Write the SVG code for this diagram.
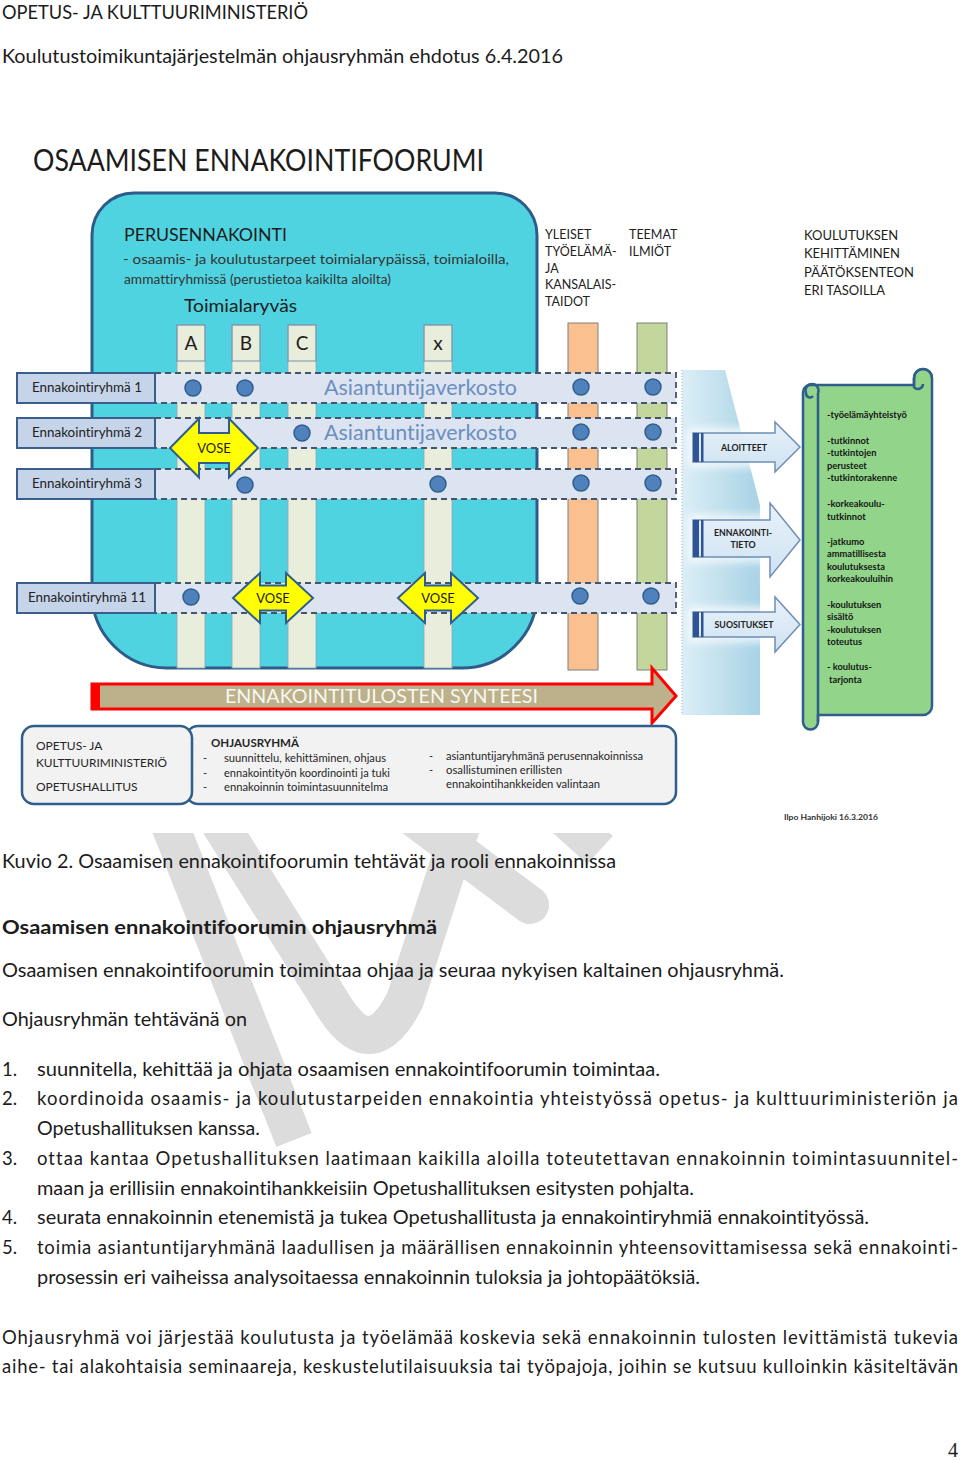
<svg xmlns="http://www.w3.org/2000/svg" width="960" height="1460" viewBox="0 0 960 1460">
<defs>
<style>
text{font-family:Lato,"Open Sans","Liberation Sans",sans-serif;fill:#1c1c1c;font-variant-ligatures:none;font-feature-settings:"liga" 0,"clig" 0}
.body{font-size:18.5px}
.hd{font-size:13px}
.lbl{font-size:12.5px;fill:#222}
.band{fill:#DCE4F1;stroke:#44546A;stroke-width:1.8;stroke-dasharray:6 4}
.gbox{fill:#C6D4EA;stroke:#3B5F8C;stroke-width:2}
.dot{fill:#4F81BD;stroke:#2F5E8C;stroke-width:1.5}
.col{fill:#E9EDDB;stroke:#8FA3B8;stroke-width:0.8}
.vose{fill:#FFFF00;stroke:#2F5E8C;stroke-width:2}
.vt{font-size:13px;text-anchor:middle}
.av{font-size:22px;fill:#6C8EBF}
.sub{font-size:13px;fill:#333}
.sc{font-size:9.3px;font-weight:bold;fill:#151515}
.ar{fill:url(#arG);stroke:#6F8DB6;stroke-width:1.5}
.at{font-size:8.8px;font-weight:bold;text-anchor:middle;fill:#222}
.stripe{fill:#2F5597}
.bx{fill:#F2F2F2;stroke:#2F5E8C;stroke-width:2.5}
.bt{font-size:12px;fill:#262626}
.it{font-size:11px;fill:#262626}
.syn{font-size:20px;fill:#F7F7F2}
.sig{font-size:7.5px;font-weight:bold;fill:#333}
.pg{font-family:"Liberation Serif",serif;font-size:20px;fill:#222}
.wm{fill:none;stroke:#DCDCDC;stroke-width:38}
</style>
<linearGradient id="panelG" x1="0" y1="0" x2="1" y2="0">
<stop offset="0" stop-color="#DCEEF6"/><stop offset="1" stop-color="#A8D2E5"/>
</linearGradient>
<linearGradient id="arG" x1="0" y1="0" x2="0" y2="1">
<stop offset="0" stop-color="#E8F2FA"/><stop offset="1" stop-color="#CFE2F1"/>
</linearGradient>
<filter id="glow" x="-30%" y="-50%" width="160%" height="200%"><feGaussianBlur stdDeviation="5"/></filter>
<clipPath id="wmClip"><rect x="0" y="833" width="960" height="400"/></clipPath>
<path id="vose1" d="M0 0 L29 -29.5 V-15 H59 V-29.5 L88 0 L59 29.5 V15 H29 V29.5 Z"/>
<path id="vose2" d="M0 0 L27 -25 V-12.5 H53 V-25 L80 0 L53 25 V12.5 H27 V25 Z"/>
</defs>
<rect width="960" height="1460" fill="#fff"/>

<!-- watermark -->
<g id="watermark" clip-path="url(#wmClip)">
<path class="wm" d="M160 800 L294 1140"/>
<path class="wm" d="M205 800 L330 1000 Q370 1070 405 1000 L450 860 L470 800"/>
<path class="wm" stroke-linecap="round" d="M390 800 L530 905"/>
<path class="wm" d="M545 800 L600 850"/>
</g>

<!-- header -->
<g id="header">
<text class="body" x="2" y="19" textLength="306" lengthAdjust="spacingAndGlyphs">OPETUS- JA KULTTUURIMINISTERIÖ</text>
<text class="body" x="2" y="63" textLength="561" lengthAdjust="spacingAndGlyphs">Koulutustoimikuntajärjestelmän ohjausryhmän ehdotus 6.4.2016</text>
</g>

<g id="title"><text x="33" y="171" font-size="30" textLength="451" lengthAdjust="spacingAndGlyphs">OSAAMISEN ENNAKOINTIFOORUMI</text></g>

<!-- perusennakointi block -->
<g id="perusennakointi">
<path d="M92 235 A42 42 0 0 1 134 193 H495 A42 42 0 0 1 537 235 V593 A75 75 0 0 1 462 668 H167 A75 75 0 0 1 92 593 Z" fill="#4FD3E0" stroke="#2E5C8A" stroke-width="3"/>
<text x="124" y="241" font-size="17" textLength="163" lengthAdjust="spacingAndGlyphs">PERUSENNAKOINTI</text>
<text class="sub" x="123" y="264" textLength="386" lengthAdjust="spacingAndGlyphs">- osaamis- ja koulutustarpeet toimialarypäissä, toimialoilla,</text>
<text class="sub" x="124" y="284" textLength="267" lengthAdjust="spacingAndGlyphs">ammattiryhmissä (perustietoa kaikilta aloilta)</text>
<text x="184" y="312" font-size="18" textLength="113" lengthAdjust="spacingAndGlyphs">Toimialaryväs</text>
</g>

<!-- columns -->
<g id="columns">
<rect class="col" x="177" y="325" width="28" height="343"/>
<rect class="col" x="232" y="325" width="28" height="343"/>
<rect class="col" x="288" y="325" width="28" height="343"/>
<rect class="col" x="424" y="325" width="28" height="343"/>
<rect x="568" y="323" width="30" height="347" fill="#FAC090" stroke="#7F7F7F" stroke-width="1"/>
<rect x="637" y="323" width="30" height="347" fill="#C3D69B" stroke="#7F7F7F" stroke-width="1"/>
<rect x="177" y="325" width="28" height="36" fill="none" stroke="#7F8FA6" stroke-width="1"/>
<rect x="232" y="325" width="28" height="36" fill="none" stroke="#7F8FA6" stroke-width="1"/>
<rect x="288" y="325" width="28" height="36" fill="none" stroke="#7F8FA6" stroke-width="1"/>
<rect x="424" y="325" width="28" height="36" fill="none" stroke="#7F8FA6" stroke-width="1"/>
<text x="191" y="350" font-size="19" text-anchor="middle">A</text>
<text x="246" y="350" font-size="19" text-anchor="middle">B</text>
<text x="302" y="350" font-size="19" text-anchor="middle">C</text>
<text x="438" y="350" font-size="19" text-anchor="middle">x</text>
</g>

<!-- top right headings -->
<g id="headings">
<text class="lbl" x="545" y="239">YLEISET</text>
<text class="lbl" x="545" y="256">TYÖELÄMÄ-</text>
<text class="lbl" x="545" y="273">JA</text>
<text class="lbl" x="545" y="289">KANSALAIS-</text>
<text class="lbl" x="545" y="306">TAIDOT</text>
<text class="lbl" x="629" y="239">TEEMAT</text>
<text class="lbl" x="629" y="256">ILMIÖT</text>
<text class="hd" x="804" y="240">KOULUTUKSEN</text>
<text class="hd" x="804" y="258">KEHITTÄMINEN</text>
<text class="hd" x="804" y="277">PÄÄTÖKSENTEON</text>
<text class="hd" x="804" y="295">ERI TASOILLA</text>
</g>

<!-- rows -->
<g id="row1">
<rect class="band" x="155" y="373" width="521" height="30"/>
<rect class="gbox" x="17" y="373" width="138" height="30"/>
<text class="lbl" x="32" y="392" textLength="110" lengthAdjust="spacingAndGlyphs">Ennakointiryhmä 1</text>
<circle class="dot" cx="193" cy="388" r="8"/><circle class="dot" cx="245" cy="388" r="8"/>
<circle class="dot" cx="581" cy="387" r="8"/><circle class="dot" cx="653" cy="387" r="8"/>
<text class="av" x="324" y="395" textLength="193" lengthAdjust="spacingAndGlyphs">Asiantuntijaverkosto</text>
</g>
<g id="row2">
<rect class="band" x="155" y="418" width="521" height="30"/>
<rect class="gbox" x="17" y="418" width="138" height="30"/>
<text class="lbl" x="32" y="437" textLength="110" lengthAdjust="spacingAndGlyphs">Ennakointiryhmä 2</text>
<circle class="dot" cx="302" cy="433" r="8"/>
<circle class="dot" cx="581" cy="432" r="8"/><circle class="dot" cx="653" cy="432" r="8"/>
<text class="av" x="324" y="440" textLength="193" lengthAdjust="spacingAndGlyphs">Asiantuntijaverkosto</text>
</g>
<g id="row3">
<rect class="band" x="155" y="469" width="521" height="30"/>
<rect class="gbox" x="17" y="469" width="138" height="30"/>
<text class="lbl" x="32" y="488" textLength="110" lengthAdjust="spacingAndGlyphs">Ennakointiryhmä 3</text>
<circle class="dot" cx="245" cy="485" r="8"/><circle class="dot" cx="438" cy="484" r="8"/>
<circle class="dot" cx="581" cy="483" r="8"/><circle class="dot" cx="653" cy="483" r="8"/>
</g>
<g id="row11">
<rect class="band" x="155" y="583" width="521" height="30"/>
<rect class="gbox" x="17" y="583" width="138" height="30"/>
<text class="lbl" x="28" y="602" textLength="118" lengthAdjust="spacingAndGlyphs">Ennakointiryhmä 11</text>
<circle class="dot" cx="191" cy="597" r="8"/>
<circle class="dot" cx="580" cy="596" r="8"/><circle class="dot" cx="651" cy="596" r="8"/>
</g>

<!-- VOSE arrows -->
<g id="vose-a"><use href="#vose1" class="vose" transform="translate(170,448)"/><text class="vt" x="214" y="453">VOSE</text></g>
<g id="vose-b"><use href="#vose2" class="vose" transform="translate(233,598)"/><text class="vt" x="273" y="603">VOSE</text></g>
<g id="vose-c"><use href="#vose2" class="vose" transform="translate(398,598)"/><text class="vt" x="438" y="603">VOSE</text></g>

<!-- right panel -->
<g id="panel">
<path d="M682 370 H725 L760 505 V715 H682 Z" fill="url(#panelG)"/>
<line x1="682" y1="370" x2="682" y2="715" stroke="#8FB3CC" stroke-width="1" stroke-dasharray="1 2"/>
</g>

<g id="aloitteet">
<path d="M693 433 H775 V422 L800 447 L775 472 V462 H693 Z" fill="none" stroke="#FFFFFF" stroke-width="8" filter="url(#glow)"/>
<path class="ar" d="M693 433 H775 V422 L800 447 L775 472 V462 H693 Z"/>
<rect class="stripe" x="693" y="433" width="6" height="29"/><rect class="stripe" x="701" y="433" width="2.5" height="29"/>
<text class="at" x="744" y="451">ALOITTEET</text>
</g>
<g id="ennakointitieto">
<path d="M693 520 H770 V503 L800 540 L770 577 V557 H693 Z" fill="none" stroke="#FFFFFF" stroke-width="8" filter="url(#glow)"/>
<path class="ar" d="M693 520 H770 V503 L800 540 L770 577 V557 H693 Z"/>
<rect class="stripe" x="693" y="520" width="6" height="37"/><rect class="stripe" x="701" y="520" width="2.5" height="37"/>
<text class="at" x="743" y="536">ENNAKOINTI-</text>
<text class="at" x="743" y="548">TIETO</text>
</g>
<g id="suositukset">
<path d="M693 612 H775 V597 L800 624.5 L775 652 V637 H693 Z" fill="none" stroke="#FFFFFF" stroke-width="8" filter="url(#glow)"/>
<path class="ar" d="M693 612 H775 V597 L800 624.5 L775 652 V637 H693 Z"/>
<rect class="stripe" x="693" y="612" width="6" height="25"/><rect class="stripe" x="701" y="612" width="2.5" height="25"/>
<text class="at" x="744" y="628">SUOSITUKSET</text>
</g>

<!-- scroll -->
<g id="scroll">
<path d="M810 385 H914 V378 A9 9 0 0 1 932 378 V706 A9 9 0 0 1 923 715 H818 V722 A7.5 7.5 0 0 1 803 722 V393 A7.5 7.5 0 0 1 810 385 Z" fill="#92D58A" stroke="#2F5E8C" stroke-width="2.5" stroke-linejoin="round"/>
<line x1="818" y1="393" x2="818" y2="722" stroke="#2F5E8C" stroke-width="2.5"/>
<path d="M914 378 A9 9 0 0 1 932 378 M914 378 V387 A5 5 0 0 0 923 384" fill="none" stroke="#2F5E8C" stroke-width="2.5"/>
<path d="M818 393 A6.5 6.5 0 1 0 806 393 A4 4 0 0 0 813 396" fill="none" stroke="#2F5E8C" stroke-width="2.5"/>
<text class="sc" x="827" y="418">-työelämäyhteistyö</text>
<text class="sc" x="827" y="444">-tutkinnot</text>
<text class="sc" x="827" y="456">-tutkintojen</text>
<text class="sc" x="827" y="469">perusteet</text>
<text class="sc" x="827" y="481">-tutkintorakenne</text>
<text class="sc" x="827" y="507">-korkeakoulu-</text>
<text class="sc" x="827" y="520">tutkinnot</text>
<text class="sc" x="827" y="545">-jatkumo</text>
<text class="sc" x="827" y="557">ammatillisesta</text>
<text class="sc" x="827" y="570">koulutuksesta</text>
<text class="sc" x="827" y="582">korkeakouluihin</text>
<text class="sc" x="827" y="608">-koulutuksen</text>
<text class="sc" x="827" y="620">sisältö</text>
<text class="sc" x="827" y="633">-koulutuksen</text>
<text class="sc" x="827" y="645">toteutus</text>
<text class="sc" x="827" y="670">- koulutus-</text>
<text class="sc" x="829" y="683">tarjonta</text>
</g>

<!-- synthesis arrow -->
<g id="synteesi">
<path d="M92 684 H652 V668 L676 696 L652 723 V709 H92 Z" fill="#BCB18A" stroke="#FF0000" stroke-width="3" stroke-linejoin="miter"/>
<rect x="92" y="683" width="8" height="27" fill="#FF0000"/>
<text class="syn" x="225" y="703" textLength="313" lengthAdjust="spacingAndGlyphs">ENNAKOINTITULOSTEN SYNTEESI</text>
</g>

<!-- bottom boxes -->
<g id="ohjausryhma">
<rect class="bx" x="186" y="726" width="490" height="78" rx="12"/>
<text class="it" x="211" y="747" font-size="11.5" font-weight="bold" textLength="88" lengthAdjust="spacingAndGlyphs">OHJAUSRYHMÄ</text>
<text class="it" x="203" y="762">-</text><text class="it" x="224" y="762" textLength="162" lengthAdjust="spacingAndGlyphs">suunnittelu, kehittäminen, ohjaus</text>
<text class="it" x="203" y="777">-</text><text class="it" x="224" y="777" textLength="166" lengthAdjust="spacingAndGlyphs">ennakointityön koordinointi ja tuki</text>
<text class="it" x="203" y="791">-</text><text class="it" x="224" y="791" textLength="164" lengthAdjust="spacingAndGlyphs">ennakoinnin toimintasuunnitelma</text>
<text class="it" x="429" y="760">-</text><text class="it" x="446" y="760" textLength="197" lengthAdjust="spacingAndGlyphs">asiantuntijaryhmänä perusennakoinnissa</text>
<text class="it" x="429" y="774">-</text><text class="it" x="446" y="774" textLength="116" lengthAdjust="spacingAndGlyphs">osallistuminen erillisten</text>
<text class="it" x="446" y="788" textLength="154" lengthAdjust="spacingAndGlyphs">ennakointihankkeiden valintaan</text>
</g>
<g id="ministerio">
<rect class="bx" x="22" y="726" width="170" height="78" rx="12"/>
<text class="bt" x="36" y="750">OPETUS- JA</text>
<text class="bt" x="36" y="767" textLength="131" lengthAdjust="spacingAndGlyphs">KULTTUURIMINISTERIÖ</text>
<text class="bt" x="36" y="791">OPETUSHALLITUS</text>
</g>
<text class="sig" x="784" y="820" textLength="94" lengthAdjust="spacingAndGlyphs">Ilpo Hanhijoki 16.3.2016</text>

<!-- body text -->
<g id="bodytext">
<text class="body" x="2" y="868" textLength="614" lengthAdjust="spacingAndGlyphs">Kuvio 2. Osaamisen ennakointifoorumin tehtävät ja rooli ennakoinnissa</text>
<text class="body" x="2" y="934" font-weight="bold" textLength="435" lengthAdjust="spacingAndGlyphs">Osaamisen ennakointifoorumin ohjausryhmä</text>
<text class="body" x="2" y="977" textLength="782" lengthAdjust="spacingAndGlyphs">Osaamisen ennakointifoorumin toimintaa ohjaa ja seuraa nykyisen kaltainen ohjausryhmä.</text>
<text class="body" x="2" y="1026" textLength="245" lengthAdjust="spacingAndGlyphs">Ohjausryhmän tehtävänä on</text>
<text class="body" x="2" y="1076">1.</text>
<text class="body" x="37" y="1076" textLength="623" lengthAdjust="spacingAndGlyphs">suunnitella, kehittää ja ohjata osaamisen ennakointifoorumin toimintaa.</text>
<text class="body" x="2" y="1105">2.</text>
<text class="body" x="37" y="1105" textLength="921" lengthAdjust="spacing">koordinoida osaamis- ja koulutustarpeiden ennakointia yhteistyössä opetus- ja kulttuuriministeriön ja</text>
<text class="body" x="37" y="1135" textLength="223" lengthAdjust="spacingAndGlyphs">Opetushallituksen kanssa.</text>
<text class="body" x="2" y="1165">3.</text>
<text class="body" x="37" y="1165" textLength="921" lengthAdjust="spacing">ottaa kantaa Opetushallituksen laatimaan kaikilla aloilla toteutettavan ennakoinnin toimintasuunnitel-</text>
<text class="body" x="37" y="1195" textLength="657" lengthAdjust="spacingAndGlyphs">maan ja erillisiin ennakointihankkeisiin Opetushallituksen esitysten pohjalta.</text>
<text class="body" x="2" y="1224">4.</text>
<text class="body" x="37" y="1224" textLength="832" lengthAdjust="spacingAndGlyphs">seurata ennakoinnin etenemistä ja tukea Opetushallitusta ja ennakointiryhmiä ennakointityössä.</text>
<text class="body" x="2" y="1254">5.</text>
<text class="body" x="37" y="1254" textLength="921" lengthAdjust="spacing">toimia asiantuntijaryhmänä laadullisen ja määrällisen ennakoinnin yhteensovittamisessa sekä ennakointi-</text>
<text class="body" x="37" y="1284" textLength="663" lengthAdjust="spacingAndGlyphs">prosessin eri vaiheissa analysoitaessa ennakoinnin tuloksia ja johtopäätöksiä.</text>
<text class="body" x="2" y="1344" textLength="956" lengthAdjust="spacing">Ohjausryhmä voi järjestää koulutusta ja työelämää koskevia sekä ennakoinnin tulosten levittämistä tukevia</text>
<text class="body" x="2" y="1373" textLength="956" lengthAdjust="spacing">aihe- tai alakohtaisia seminaareja, keskustelutilaisuuksia tai työpajoja, joihin se kutsuu kulloinkin käsiteltävän</text>
<text class="pg" x="948" y="1457">4</text>
</g>
</svg>
